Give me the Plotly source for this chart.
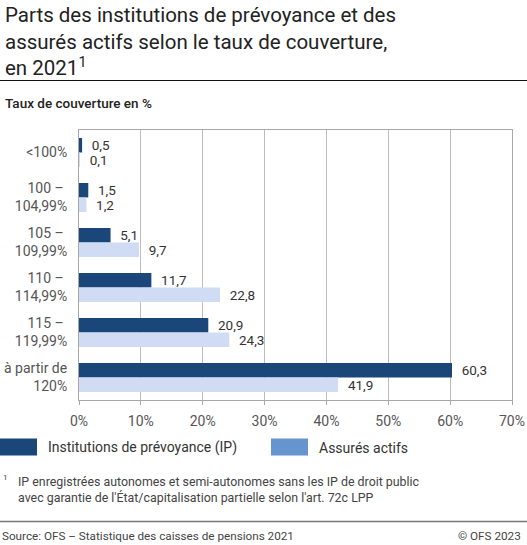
import plotly.graph_objects as go

# taux de couverture (libellés sur deux lignes)
categories = ["<100%", "100 – <br>104,99%", "105 – <br>109,99%",
              "110 – <br>114,99%", "115 – <br>119,99%", "à partir de<br>120%"]
ip_values = [0.5, 1.5, 5.1, 11.7, 20.9, 60.3]
actifs_values = [0.1, 1.2, 9.7, 22.8, 24.3, 41.9]
x_ticks = [0, 10, 20, 30, 40, 50, 60, 70]
x_tick_labels = ["0%", "10%", "20%", "30%", "40%", "50%", "60%", "70%"]

DARK = "#1b4679"
LIGHT = "#cfdcf3"
LEGEND_LIGHT = "#6594cf"
FONT = "Roboto"

W, H = 527, 545
L, R, T, B = 79, 15, 130, 145
PW, PH = W - L - R, H - T - B


def px(x):
    return (x - L) / PW


def py(y):
    return (H - B - y) / PH


fig = go.Figure()

for vals, color, name in [(ip_values, DARK, "Institutions de prévoyance (IP)"),
                          (actifs_values, LIGHT, "Assurés actifs")]:
    fig.add_trace(go.Bar(
        y=categories, x=vals, orientation="h", name=name,
        marker=dict(color=color, line=dict(width=0)),
        texttemplate="\u00a0\u00a0%{x:.1f}", textposition="outside",
        constraintext="none", cliponaxis=False,
        textfont=dict(family=FONT, size=13.5, color="#333333"),
        showlegend=False, hoverinfo="x+name",
    ))

shapes = []
annotations = []

# titre
annotations.append(dict(
    text="Parts des institutions de prévoyance et des<br>"
         "assurés actifs selon le taux de couverture,<br>"
         "en 2021<sup>1</sup>",
    x=px(3), y=py(1), xref="paper", yref="paper", xanchor="left", yanchor="top",
    align="left", showarrow=False,
    font=dict(family=FONT, size=20.5, color="#222222"),
))
shapes.append(dict(type="line", xref="paper", yref="paper",
                   x0=px(0), x1=px(W), y0=py(80.5), y1=py(80.5),
                   line=dict(color="#111111", width=1.2)))
annotations.append(dict(
    text="Taux de couverture en %", x=px(3), y=py(103),
    xref="paper", yref="paper", xanchor="left", yanchor="middle",
    showarrow=False,
    font=dict(family=FONT, size=13.5, color="#222222", weight=500),
))

# légende
legend_items = [(0, DARK, "Institutions de prévoyance (IP)"),
                (271, LEGEND_LIGHT, "Assurés actifs")]
for x0, color, label in legend_items:
    shapes.append(dict(type="rect", xref="paper", yref="paper",
                       x0=px(x0), x1=px(x0 + 37), y0=py(438.5), y1=py(455.5),
                       fillcolor=color, line=dict(width=0)))
    annotations.append(dict(
        text=label, x=px(x0 + 46), y=py(447.5), xref="paper", yref="paper",
        xanchor="left", yanchor="middle", showarrow=False,
        font=dict(family=FONT, size=14, color="#333333"),
    ))

# note
annotations.append(dict(
    text="<sup>1</sup>", x=px(1), y=py(478), xref="paper", yref="paper",
    xanchor="left", yanchor="middle", showarrow=False,
    font=dict(family=FONT, size=11.5, color="#444444"),
))
annotations.append(dict(
    text="IP enregistrées autonomes et semi-autonomes sans les IP de droit public<br>"
         "avec garantie de l'État/capitalisation partielle selon l'art. 72c LPP",
    x=px(16), y=py(472), xref="paper", yref="paper", xanchor="left", yanchor="top",
    align="left", showarrow=False,
    font=dict(family=FONT, size=12.4, color="#444444"),
))

# pied
shapes.append(dict(type="line", xref="paper", yref="paper",
                   x0=px(0), x1=px(W), y0=py(521.5), y1=py(521.5),
                   line=dict(color="#777777", width=1.5)))
annotations.append(dict(
    text="Source: OFS – Statistique des caisses de pensions 2021",
    x=px(0), y=py(536), xref="paper", yref="paper", xanchor="left",
    yanchor="middle", showarrow=False,
    font=dict(family=FONT, size=11.7, color="#444444"),
))
annotations.append(dict(
    text="© OFS 2023", x=px(523), y=py(536), xref="paper", yref="paper",
    xanchor="right", yanchor="middle", showarrow=False,
    font=dict(family=FONT, size=11.7, color="#444444"),
))

fig.update_layout(
    width=W, height=H,
    margin=dict(l=L, r=R, t=T, b=B, autoexpand=False),
    paper_bgcolor="white", plot_bgcolor="white",
    separators=", ",
    barmode="group", bargap=0.356, bargroupgap=0,
    font=dict(family=FONT, size=13, color="#444444"),
    shapes=shapes, annotations=annotations,
    showlegend=False,
)
fig.update_xaxes(
    range=[0, 70], tickvals=x_ticks, ticktext=x_tick_labels,
    showgrid=True, gridcolor="#bdbdbd", gridwidth=1,
    showline=True, linecolor="#a8a8a8", linewidth=1, mirror=True,
    ticks="outside", ticklen=4, tickcolor="#a8a8a8", ticklabelstandoff=4,
    tickfont=dict(family=FONT, size=14, color="#555555"),
    zeroline=False,
)
fig.update_yaxes(
    autorange="reversed", showgrid=False,
    showline=True, linecolor="#a8a8a8", linewidth=1, mirror=True,
    ticks="", ticklabelstandoff=8,
    tickfont=dict(family=FONT, size=14, color="#555555"),
)

# la page par défaut a une marge de 8px autour du graphique
fig.write_html("out.html", config={"displayModeBar": False},
               post_script="document.body.style.margin='0';")
